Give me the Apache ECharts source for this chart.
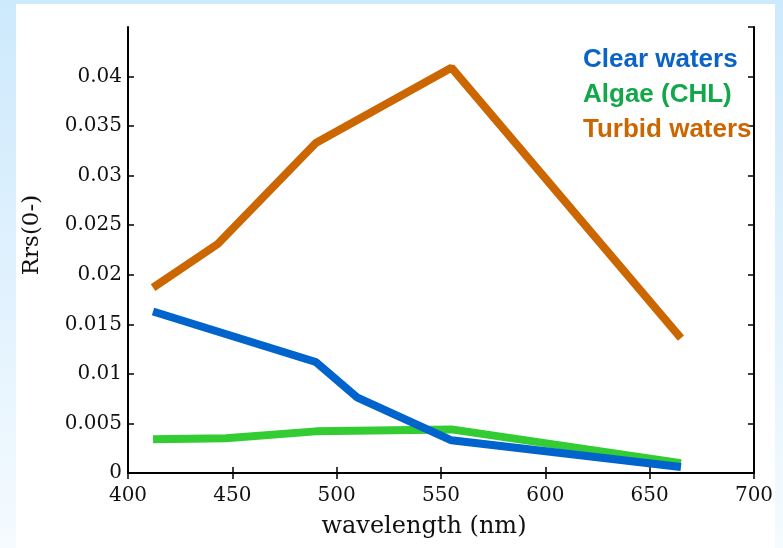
<!DOCTYPE html>
<html>
<head>
<meta charset="utf-8">
<script src="https://cdn.jsdelivr.net/npm/echarts@6/dist/echarts.min.js"></script>
<style>
  html, body { margin: 0; padding: 0; width: 783px; height: 548px; overflow: hidden; }
  body { background: linear-gradient(180deg, #cde9fc 0%, #e4f3fe 60%, #f5fbff 100%); position: relative; }
  #panel { position: absolute; left: 16px; top: 4px; width: 759px; height: 544px; background: #fff; }
  #chart { position: absolute; left: 0; top: 0; width: 783px; height: 548px; }
</style>
</head>
<body>
<div id="panel"></div>
<div id="chart"></div>
<script>
// 波段 (nm)
const clearBands = [412, 490, 510, 555, 665]
const clearValues = [0.0163, 0.0112, 0.0076, 0.0033, 0.0006]

const algaeBands = [412, 447, 490, 555, 665]
const algaeValues = [0.0034, 0.0035, 0.0042, 0.0044, 0.0010]

const turbidBands = [412, 443, 490, 555, 665]
const turbidValues = [0.0187, 0.0231, 0.0333, 0.0409, 0.0136]

const seriesNames = ['Clear waters', 'Algae (CHL)', 'Turbid waters']
const seriesColors = ['#0064cc', '#33cc33', '#cc6600']
const legendColors = ['#0b63c5', '#12a84a', '#cc6600'] // 图例文字颜色

const pairs = (xs, ys) => xs.map((x, i) => [x, ys[i]])

const serif = 'DejaVu Serif'
const labelFont = { fontFamily: serif, fontSize: 20, color: '#111' }
const axisLine = { show: true, lineStyle: { color: '#000', width: 2 } }
const tick = { show: true, inside: true, length: 6, lineStyle: { color: '#000', width: 1.5 } }

const myChart = echarts.init(document.getElementById('chart'))

myChart.setOption({
  animation: false,
  grid: { left: 128, right: 29, top: 27, bottom: 75 },
  legend: {
    orient: 'vertical',
    left: 573,
    top: 42,
    icon: 'none',
    itemWidth: 0,
    itemGap: 9,
    textStyle: { fontFamily: 'Liberation Sans', fontSize: 26, fontWeight: 'bold' },
    data: seriesNames.map((n, i) => ({ name: n, textStyle: { color: legendColors[i] } }))
  },
  xAxis: [
    {
      type: 'value',
      min: 400,
      max: 700,
      interval: 50,
      name: 'wavelength (nm)',
      nameLocation: 'middle',
      nameGap: 42,
      nameTextStyle: { fontFamily: serif, fontSize: 24, color: '#111', padding: [0, 34, 0, 0] },
      axisLine,
      axisTick: tick,
      axisLabel: { ...labelFont, margin: 13 },
      splitLine: { show: false }
    },
    {
      type: 'value',
      position: 'top',
      min: 400,
      max: 700,
      interval: 50,
      axisLine,
      axisTick: tick,
      axisLabel: { show: false },
      splitLine: { show: false }
    }
  ],
  yAxis: [
    {
      type: 'value',
      min: 0,
      max: 0.045,
      interval: 0.005,
      name: 'Rrs(0-)',
      nameLocation: 'middle',
      nameGap: 84,
      nameTextStyle: { fontFamily: serif, fontSize: 23, color: '#111', padding: [0, 0, 0, 30] },
      axisLine,
      axisTick: tick,
      axisLabel: { ...labelFont, margin: 6, showMaxLabel: false, formatter: v => String(+v.toFixed(3)) },
      splitLine: { show: false }
    },
    {
      type: 'value',
      position: 'right',
      min: 0,
      max: 0.045,
      interval: 0.005,
      axisLine,
      axisTick: tick,
      axisLabel: { show: false },
      splitLine: { show: false }
    }
  ],
  series: [
    { name: seriesNames[0], data: pairs(clearBands, clearValues) },
    { name: seriesNames[1], data: pairs(algaeBands, algaeValues) },
    { name: seriesNames[2], data: pairs(turbidBands, turbidValues) }
  ].map((s, i) => ({
    ...s,
    type: 'line',
    symbol: 'none',
    z: i === 0 ? 4 : 3,
    itemStyle: { color: seriesColors[i] },
    lineStyle: { color: seriesColors[i], width: 8 }
  }))
})
</script>
</body>
</html>
